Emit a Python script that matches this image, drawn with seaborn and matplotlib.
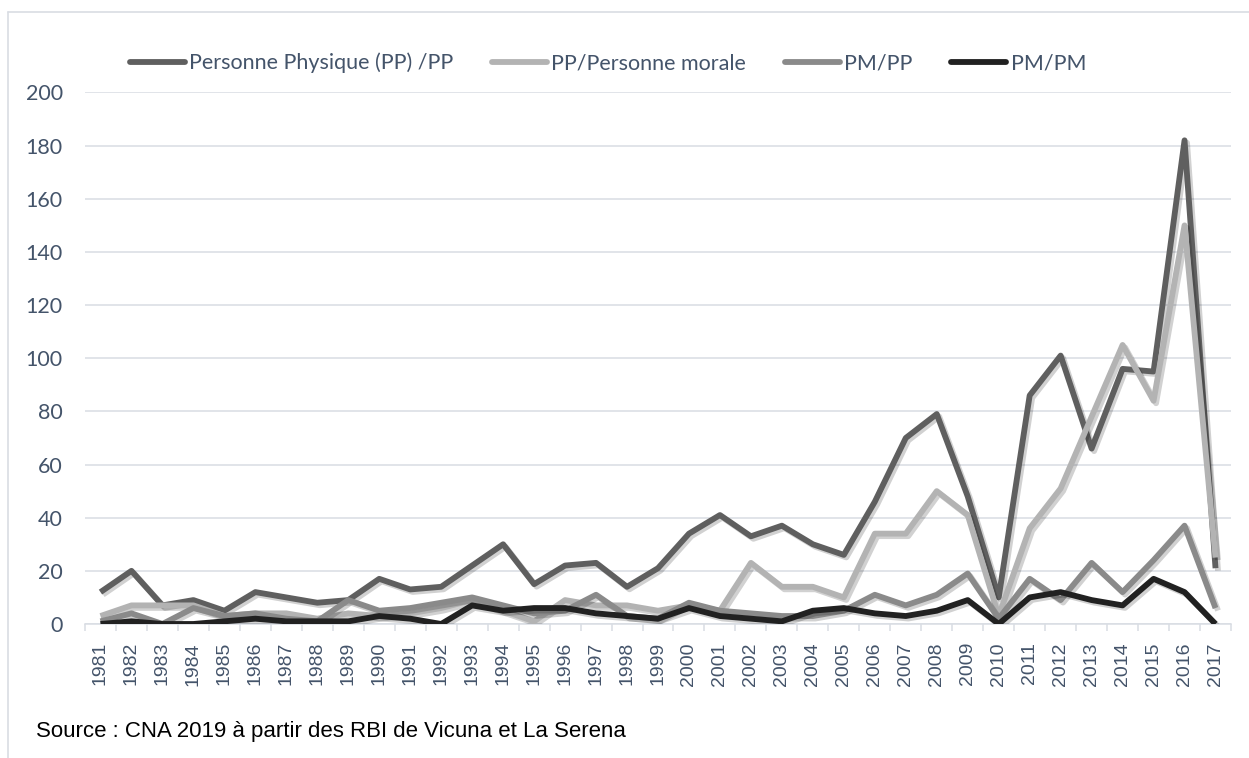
import matplotlib
matplotlib.use("Agg")
import matplotlib.pyplot as plt
import matplotlib.patheffects as pe
from matplotlib.lines import Line2D
import seaborn as sns
import pandas as pd
import numpy as np

# ---- data -------------------------------------------------------------
years = list(range(1981, 2018))

pp_pp = [12, 20, 7, 9, 5, 12, 10, 8, 9, 17, 13, 14, 22, 30, 15, 22, 23, 14, 21,
         34, 41, 33, 37, 30, 26, 46, 70, 79, 48, 10, 86, 101, 66, 96, 95, 182, 21]
pp_pm = [3, 7, 7, 7, 3, 4, 4, 2, 4, 3, 4, 6, 9, 5, 1, 9, 7, 7, 5,
         7, 5, 23, 14, 14, 10, 34, 34, 50, 41, 3, 36, 51, 78, 105, 84, 150, 25]
pm_pp = [1, 4, 0, 6, 3, 4, 2, 1, 9, 5, 6, 8, 10, 7, 4, 5, 11, 3, 2,
         8, 5, 4, 3, 3, 5, 11, 7, 11, 19, 2, 17, 9, 23, 12, 24, 37, 6]
pm_pm = [0, 1, 0, 0, 1, 2, 1, 1, 1, 3, 2, 0, 7, 5, 6, 6, 4, 3, 2,
         6, 3, 2, 1, 5, 6, 4, 3, 5, 9, 0, 10, 12, 9, 7, 17, 12, 0]

series_names = ["Personne Physique (PP) /PP", "PP/Personne morale", "PM/PP", "PM/PM"]
series_values = [pp_pp, pp_pm, pm_pp, pm_pm]
series_colors = ["#5f5f5f", "#b3b3b3", "#8a8a8a", "#212121"]

y_ticks = list(range(0, 201, 20))
source_text = "Source : CNA 2019 à partir des RBI de Vicuna et La Serena"

long = pd.DataFrame(
    [(name, y, v) for name, vals in zip(series_names, series_values)
     for y, v in zip(years, vals)],
    columns=["series", "year", "value"],
)

# ---- style ------------------------------------------------------------
sns.set_theme(style="white")
plt.rcParams["font.family"] = ["Lato", "DejaVu Sans"]

W, H = 1249, 758
fig = plt.figure(figsize=(W / 100, H / 100), dpi=100)
fig.patch.set_facecolor("white")

grid_col = "#d9dde3"
label_col = "#44546a"

left, right, bottom, top = 85, 1231, 624, 92.5
ax = fig.add_axes([left / W, 1 - bottom / H, (right - left) / W, (bottom - top) / H])

sns.lineplot(
    data=long, x="year", y="value", hue="series", hue_order=series_names,
    palette=series_colors, linewidth=4.2, estimator=None, legend=False, ax=ax,
)

shadow = [pe.SimpleLineShadow(offset=(1.8, -1.8), shadow_color="black", alpha=0.18),
          pe.Normal()]
for ln in ax.lines:
    ln.set_path_effects(shadow)
    ln.set_solid_joinstyle("round")
    ln.set_solid_capstyle("butt")

ax.set_xlim(years[0] - 0.5, years[-1] + 0.5)
ax.set_ylim(0, 200)
ax.set_yticks(y_ticks)
ax.set_yticklabels([str(t) for t in y_ticks], fontsize=15.5, color=label_col)
ax.set_xticks(years)
ax.set_xticklabels([str(y) for y in years], rotation=90, fontsize=14,
                   color=label_col, family=["Liberation Sans", "DejaVu Sans"])
ax.set_xticks(np.arange(years[0] - 0.5, years[-1] + 1.0, 1.0), minor=True)
ax.tick_params(axis="x", which="major", length=0, pad=13)
ax.tick_params(axis="x", which="minor", length=4.8, width=1.1, color=grid_col,
               direction="out", bottom=True)
ax.tick_params(axis="y", length=0, pad=16)
ax.set_xlabel("")
ax.set_ylabel("")

ax.yaxis.grid(True, color=grid_col, linewidth=1.1)
ax.xaxis.grid(False)
ax.set_axisbelow(True)
for s in ["left", "right", "top"]:
    ax.spines[s].set_visible(False)
ax.spines["bottom"].set_color(grid_col)
ax.spines["bottom"].set_linewidth(1.1)
ax.spines["bottom"].set_zorder(1)

# legend across the top
handles = [Line2D([], [], color=c, linewidth=4.2, solid_capstyle="round")
           for c in series_colors]
leg = fig.legend(
    handles, series_names, loc="center left",
    bbox_to_anchor=(130 / W, 1 - 63 / H), bbox_transform=fig.transFigure,
    ncol=4, frameon=False, fontsize=15.5, handlelength=2.55,
    handletextpad=0.2, columnspacing=1.8, borderpad=0, borderaxespad=0,
)
for t in leg.get_texts():
    t.set_color(label_col)

# chart frame (top and left edges)
fig.add_artist(Line2D([8 / W, 8 / W], [0, 1 - 12 / H], transform=fig.transFigure,
                      color=grid_col, linewidth=1.2))
fig.add_artist(Line2D([8 / W, 1], [1 - 12 / H, 1 - 12 / H], transform=fig.transFigure,
                      color=grid_col, linewidth=1.2))

fig.text(36 / W, 1 - 731 / H, source_text, ha="left", va="center", fontsize=16,
         color="black", family=["Liberation Sans", "DejaVu Sans"])

fig.savefig("out.png", dpi=100)
